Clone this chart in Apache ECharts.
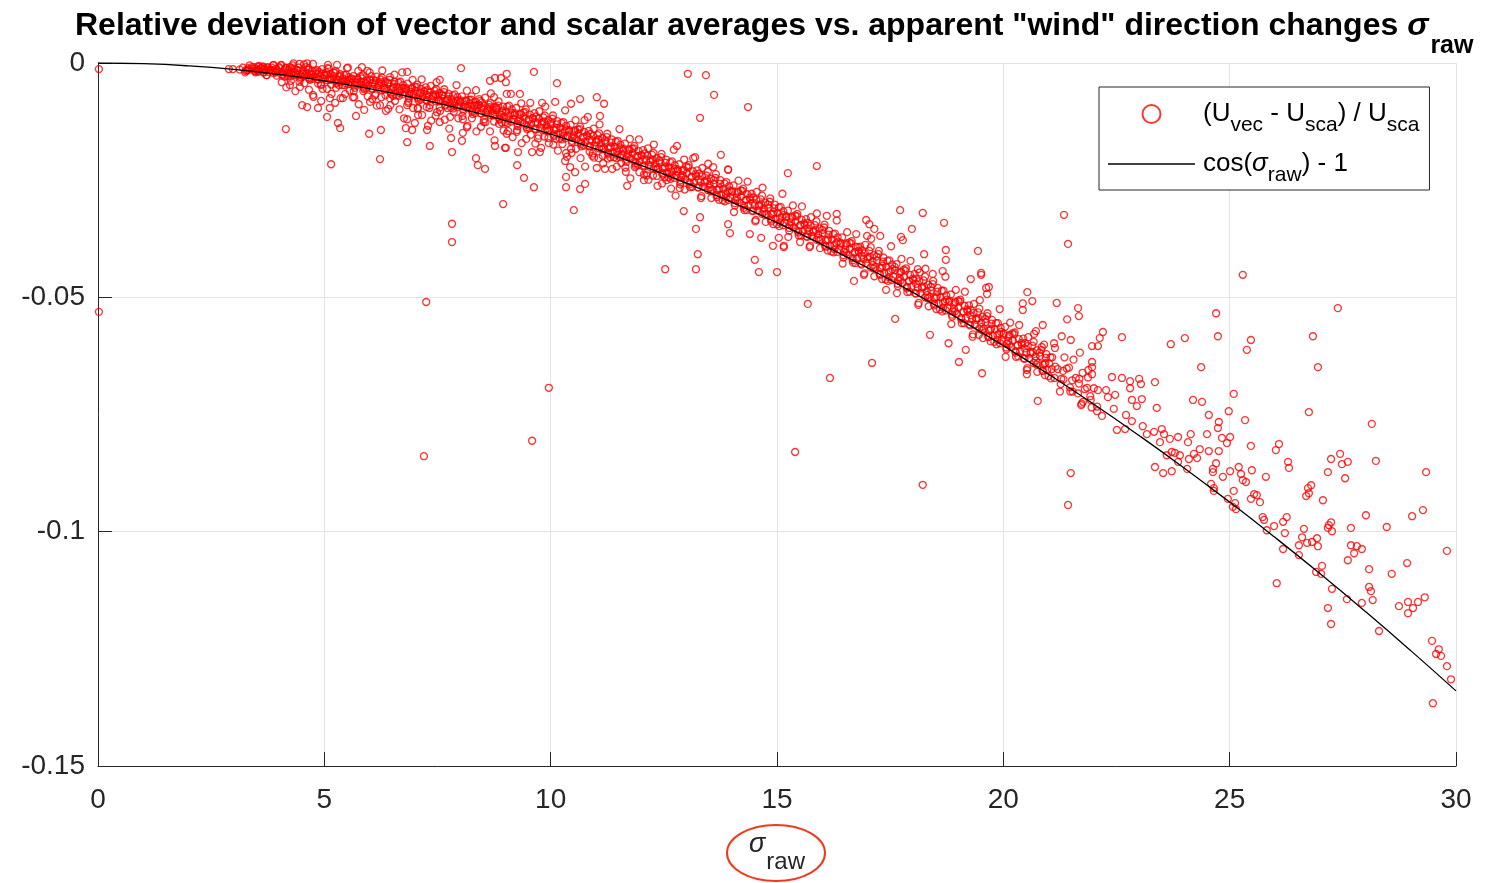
<!DOCTYPE html>
<html>
<head>
<meta charset="utf-8">
<script src="https://cdn.jsdelivr.net/npm/echarts@6/dist/echarts.min.js"></script>
<style>html,body{margin:0;padding:0;background:#fff;overflow:hidden}#c{width:1504px;height:883px}</style>
</head>
<body>
<div id="c"></div>
<script>
// ---- data ----
const xTicks = [0, 5, 10, 15, 20, 25, 30];
const yTickLabels = ['-0.15', '-0.1', '-0.05', '0'];

// black reference curve cos(sigma_raw)-1, read at each degree
const curveSigma = [0,1,2,3,4,5,6,7,8,9,10,11,12,13,14,15,16,17,18,19,20,21,22,23,24,25,26,27,28,29,30];
const curveDev = [0,-0.00015,-0.00061,-0.00137,-0.00244,-0.00381,-0.00548,-0.00745,-0.00973,-0.01231,-0.01519,-0.01837,-0.02185,-0.02563,-0.02970,-0.03407,-0.03874,-0.04370,-0.04894,-0.05448,-0.06031,-0.06642,-0.07282,-0.07950,-0.08645,-0.09369,-0.10121,-0.10899,-0.11705,-0.12538,-0.13397];

// dense band of measured points along the curve (part 1)
const bandPts = [
[3.13,-0.0014],[3.2,-0.0010],[3.27,-0.0017],[3.33,-0.0014],[3.4,-0.0009],[3.47,-0.0018],[3.53,-0.0019],[3.6,-0.0011],[3.67,-0.0014],
[3.73,-0.0026],[3.8,-0.0015],[3.87,-0.0005],[3.93,-0.0020],[4.0,-0.0009],[4.07,-0.0027],[4.13,-0.0014],[4.2,-0.0029],[4.27,-0.0021],
[4.33,-0.0026],[4.4,-0.0015],[4.47,-0.0034],[4.53,-0.0023],[4.6,-0.0009],[4.67,-0.0034],[4.73,-0.0034],[4.8,-0.0017],[4.87,-0.0024],
[4.93,-0.0045],[5.0,-0.0026],[5.07,-0.0011],[5.13,-0.0036],[5.2,-0.0020],[5.27,-0.0044],[5.33,-0.0029],[5.4,-0.0047],[5.47,-0.0037],
[5.53,-0.0045],[5.6,-0.0033],[5.67,-0.0053],[5.73,-0.0042],[5.8,-0.0028],[5.87,-0.0053],[5.93,-0.0054],[6.0,-0.0036],[6.07,-0.0044],
[6.13,-0.0066],[6.2,-0.0047],[6.27,-0.0031],[6.33,-0.0057],[6.4,-0.0042],[6.47,-0.0066],[6.53,-0.0051],[6.6,-0.0069],[6.67,-0.0059],
[6.73,-0.0067],[6.8,-0.0056],[6.87,-0.0075],[6.93,-0.0066],[7.0,-0.0051],[7.07,-0.0076],[7.13,-0.0078],[7.2,-0.0060],[7.27,-0.0068],
[7.33,-0.0090],[7.4,-0.0071],[7.47,-0.0056],[7.53,-0.0082],[7.6,-0.0067],[7.67,-0.0091],[7.73,-0.0077],[7.8,-0.0095],[7.87,-0.0085],
[7.93,-0.0094],[8.0,-0.0083],[8.07,-0.0102],[8.13,-0.0094],[8.2,-0.0079],[8.27,-0.0104],[8.33,-0.0107],[8.4,-0.0089],[8.47,-0.0096],
[8.53,-0.0120],[8.6,-0.0101],[8.67,-0.0085],[8.73,-0.0112],[8.8,-0.0097],[8.87,-0.0121],[8.93,-0.0104],[9.0,-0.0126],[9.07,-0.0114],
[9.13,-0.0125],[9.2,-0.0111],[9.27,-0.0135],[9.33,-0.0124],[9.4,-0.0106],[9.47,-0.0137],[9.53,-0.0139],[9.6,-0.0117],[9.67,-0.0126],
[9.73,-0.0155],[9.8,-0.0131],[9.87,-0.0112],[9.93,-0.0145],[10.0,-0.0126],[10.07,-0.0156],[10.13,-0.0139],[10.2,-0.0161],[10.27,-0.0149],
[10.33,-0.0160],[10.4,-0.0146],[10.47,-0.0170],[10.53,-0.0160],[10.6,-0.0142],[10.67,-0.0173],[10.73,-0.0176],[10.8,-0.0154],[10.87,-0.0163],
[10.93,-0.0193],[11.0,-0.0169],[11.07,-0.0150],[11.13,-0.0184],[11.2,-0.0165],[11.27,-0.0195],[11.33,-0.0179],[11.4,-0.0201],[11.47,-0.0189],
[11.53,-0.0201],[11.6,-0.0187],[11.67,-0.0211],[11.73,-0.0201],[11.8,-0.0183],[11.87,-0.0214],[11.93,-0.0217],[12.0,-0.0196],[12.07,-0.0204],
[12.13,-0.0235],[12.2,-0.0211],[12.27,-0.0192],[12.33,-0.0227],[12.4,-0.0208],[12.47,-0.0238],[12.53,-0.0222],[12.6,-0.0244],[12.67,-0.0232],
[12.73,-0.0245],[12.8,-0.0231],[12.87,-0.0255],[12.93,-0.0243],[13.0,-0.0221],[13.07,-0.0259],[13.13,-0.0264],[13.2,-0.0237],[13.27,-0.0248],
[13.33,-0.0284],[13.4,-0.0255],[13.47,-0.0232],[13.53,-0.0273],[13.6,-0.0250],[13.67,-0.0286],[13.73,-0.0267],[13.8,-0.0293],[13.87,-0.0279],
[13.93,-0.0292],[14.0,-0.0275],[14.07,-0.0304],[14.13,-0.0293],[14.2,-0.0272],[14.27,-0.0309],[14.33,-0.0314],[14.4,-0.0287],[14.47,-0.0298],
[14.53,-0.0335],[14.6,-0.0306],[14.67,-0.0283],[14.73,-0.0324],[14.8,-0.0302],[14.87,-0.0338],[14.93,-0.0318],[15.0,-0.0344],[15.07,-0.0330],
[15.13,-0.0346],[15.2,-0.0329],[15.27,-0.0358],[15.33,-0.0347],[15.4,-0.0325],[15.47,-0.0362],[15.53,-0.0368],[15.6,-0.0342],[15.67,-0.0353],
[15.73,-0.0390],[15.8,-0.0361],[15.87,-0.0338],[15.93,-0.0379],[16.0,-0.0356],[16.07,-0.0392],[16.13,-0.0376],[16.2,-0.0402],[16.27,-0.0388],
[16.33,-0.0403],[16.4,-0.0387],[16.47,-0.0415],[16.53,-0.0405],[16.6,-0.0383],[16.67,-0.0421],[16.73,-0.0427],[16.8,-0.0401],[16.87,-0.0411],
[16.93,-0.0449],[17.0,-0.0418],[17.07,-0.0393],[17.13,-0.0438],[17.2,-0.0413],[17.27,-0.0452],[17.33,-0.0433],[17.4,-0.0462],[17.47,-0.0446],
[17.53,-0.0463],[17.6,-0.0435],[17.67,-0.0476],[17.73,-0.0464],[17.8,-0.0441],[17.87,-0.0481],[17.93,-0.0488],[18.0,-0.0460],[18.07,-0.0471],
[18.13,-0.0512],[18.2,-0.0481],[18.27,-0.0456],[18.33,-0.0502],[18.4,-0.0478],[18.47,-0.0517],[18.53,-0.0498],[18.6,-0.0526],[18.67,-0.0511],
[18.73,-0.0528],[18.8,-0.0510],[18.87,-0.0541],[18.93,-0.0530],[19.0,-0.0507],[19.07,-0.0547],[19.13,-0.0555],[19.2,-0.0526],[19.27,-0.0538],
[19.33,-0.0579],[19.4,-0.0548],[19.47,-0.0524],[19.53,-0.0570],[19.6,-0.0546],[19.67,-0.0585],[19.73,-0.0567],[19.8,-0.0595],[19.87,-0.0580],
[19.93,-0.0598],[20.0,-0.0580],[20.07,-0.0611],[20.13,-0.0601],[20.2,-0.0577],[20.27,-0.0618],[20.33,-0.0626],[20.4,-0.0597],[20.47,-0.0609],
[20.53,-0.0651],[20.6,-0.0620],[20.67,-0.0595],[20.73,-0.0643],[20.8,-0.0618],[20.87,-0.0657],[20.93,-0.0640],[21.0,-0.0668],[21.07,-0.0653],
[21.13,-0.0672],[21.2,-0.0653],[21.27,-0.0685],[21.33,-0.0675],[21.4,-0.0652],[21.47,-0.0692],[21.53,-0.0701],[21.6,-0.0672],[21.67,-0.0684],
[21.73,-0.0727],[21.8,-0.0696],[21.87,-0.0671],[21.93,-0.0719],[22.0,-0.0694],[22.07,-0.0733]
];

// dense band of measured points along the curve (part 2)
const bandPts2 = [
[3.25,-0.0020],[3.28,-0.0015],[3.32,-0.0011],[3.35,-0.0005],[3.45,-0.0009],[3.48,-0.0020],[3.52,-0.0015],[3.55,-0.0006],
[3.65,-0.0020],[3.68,-0.0012],[3.72,-0.0026],[3.75,-0.0009],[3.85,-0.0015],[3.88,-0.0004],[3.92,-0.0020],[3.95,-0.0027],
[4.05,-0.0004],[4.08,-0.0020],[4.12,-0.0029],[4.15,-0.0010],[4.25,-0.0029],[4.28,-0.0011],[4.32,-0.0001],[4.35,-0.0019],
[4.45,-0.0040],[4.48,-0.0026],[4.52,-0.0018],[4.55,-0.0003],[4.65,-0.0011],[4.68,-0.0036],[4.72,-0.0024],[4.75,-0.0002],
[4.85,-0.0035],[4.88,-0.0019],[4.92,-0.0047],[4.95,-0.0013],[5.05,-0.0025],[5.08,-0.0004],[5.12,-0.0034],[5.15,-0.0046],
[5.25,-0.0017],[5.28,-0.0036],[5.32,-0.0047],[5.35,-0.0024],[5.45,-0.0047],[5.48,-0.0025],[5.52,-0.0010],[5.55,-0.0035],
[5.65,-0.0060],[5.68,-0.0044],[5.72,-0.0034],[5.75,-0.0017],[5.85,-0.0026],[5.88,-0.0056],[5.92,-0.0042],[5.95,-0.0017],
[6.05,-0.0055],[6.08,-0.0036],[6.12,-0.0069],[6.15,-0.0029],[6.25,-0.0041],[6.28,-0.0016],[6.32,-0.0053],[6.35,-0.0069],
[6.45,-0.0030],[6.48,-0.0055],[6.52,-0.0070],[6.55,-0.0040],[6.65,-0.0070],[6.68,-0.0040],[6.72,-0.0020],[6.75,-0.0053],
[6.85,-0.0085],[6.88,-0.0066],[6.92,-0.0055],[6.95,-0.0036],[7.05,-0.0046],[7.08,-0.0080],[7.12,-0.0064],[7.15,-0.0035],
[7.25,-0.0079],[7.28,-0.0058],[7.32,-0.0096],[7.35,-0.0049],[7.45,-0.0067],[7.48,-0.0041],[7.52,-0.0079],[7.55,-0.0095],
[7.65,-0.0056],[7.68,-0.0081],[7.72,-0.0096],[7.75,-0.0066],[7.85,-0.0097],[7.88,-0.0067],[7.92,-0.0047],[7.95,-0.0080],
[8.05,-0.0113],[8.08,-0.0093],[8.12,-0.0080],[8.15,-0.0059],[8.25,-0.0071],[8.28,-0.0109],[8.32,-0.0091],[8.35,-0.0058],
[8.45,-0.0107],[8.48,-0.0084],[8.52,-0.0126],[8.55,-0.0074],[8.65,-0.0094],[8.68,-0.0065],[8.72,-0.0107],[8.75,-0.0125],
[8.85,-0.0082],[8.88,-0.0110],[8.92,-0.0127],[8.95,-0.0093],[9.05,-0.0128],[9.08,-0.0091],[9.12,-0.0066],[9.15,-0.0107],
[9.25,-0.0147],[9.28,-0.0124],[9.32,-0.0110],[9.35,-0.0086],[9.45,-0.0099],[9.48,-0.0141],[9.52,-0.0121],[9.55,-0.0085],
[9.65,-0.0140],[9.68,-0.0114],[9.72,-0.0161],[9.75,-0.0103],[9.85,-0.0125],[9.88,-0.0093],[9.92,-0.0140],[9.95,-0.0160],
[10.05,-0.0112],[10.08,-0.0143],[10.12,-0.0162],[10.15,-0.0124],[10.25,-0.0163],[10.28,-0.0126],[10.32,-0.0101],[10.35,-0.0142],
[10.45,-0.0183],[10.48,-0.0160],[10.52,-0.0146],[10.55,-0.0122],[10.65,-0.0136],[10.68,-0.0178],[10.72,-0.0158],[10.75,-0.0122],
[10.85,-0.0178],[10.88,-0.0151],[10.92,-0.0198],[10.95,-0.0140],[11.05,-0.0163],[11.08,-0.0131],[11.12,-0.0178],[11.15,-0.0198],
[11.25,-0.0151],[11.28,-0.0182],[11.32,-0.0201],[11.35,-0.0163],[11.45,-0.0203],[11.48,-0.0166],[11.52,-0.0141],[11.55,-0.0182],
[11.65,-0.0223],[11.68,-0.0200],[11.72,-0.0186],[11.75,-0.0162],[11.85,-0.0177],[11.88,-0.0219],[11.92,-0.0199],[11.95,-0.0163],
[12.05,-0.0219],[12.08,-0.0193],[12.12,-0.0240],[12.15,-0.0182],[12.25,-0.0206],[12.28,-0.0174],[12.32,-0.0221],[12.35,-0.0241],
[12.45,-0.0194],[12.48,-0.0225],[12.52,-0.0244],[12.55,-0.0206],[12.65,-0.0247],[12.68,-0.0210],[12.72,-0.0185],[12.75,-0.0226],
[12.85,-0.0267],[12.88,-0.0244],[12.92,-0.0230],[12.95,-0.0206],[13.05,-0.0218],[13.08,-0.0265],[13.12,-0.0243],[13.15,-0.0203],
[13.25,-0.0265],[13.28,-0.0236],[13.32,-0.0288],[13.35,-0.0224],[13.45,-0.0250],[13.48,-0.0215],[13.52,-0.0266],[13.55,-0.0288],
[13.65,-0.0237],[13.68,-0.0271],[13.72,-0.0292],[13.75,-0.0250],[13.85,-0.0295],[13.88,-0.0254],[13.92,-0.0227],[13.95,-0.0272],
[14.05,-0.0318],[14.08,-0.0293],[14.12,-0.0277],[14.15,-0.0251],[14.25,-0.0268],[14.28,-0.0314],[14.32,-0.0292],[14.35,-0.0253],
[14.45,-0.0315],[14.48,-0.0287],[14.52,-0.0338],[14.55,-0.0275],[14.65,-0.0301],[14.68,-0.0266],[14.72,-0.0317],[14.75,-0.0339],
[14.85,-0.0289],[14.88,-0.0323],[14.92,-0.0344],[14.95,-0.0302],[15.05,-0.0348],[15.08,-0.0307],[15.12,-0.0279],[15.15,-0.0324],
[15.25,-0.0371],[15.28,-0.0346],[15.32,-0.0330],[15.35,-0.0304],[15.45,-0.0322],[15.48,-0.0368],[15.52,-0.0346],[15.55,-0.0306],
[15.65,-0.0370],[15.68,-0.0341],[15.72,-0.0393],[15.75,-0.0329],[15.85,-0.0356],[15.88,-0.0321],[15.92,-0.0373],[15.95,-0.0395],
[16.05,-0.0345],[16.08,-0.0379],[16.12,-0.0400],[16.15,-0.0358],[16.25,-0.0404],[16.28,-0.0364],[16.32,-0.0336],[16.35,-0.0381],
[16.45,-0.0428],[16.48,-0.0403],[16.52,-0.0388],[16.55,-0.0361],[16.65,-0.0380],[16.68,-0.0426],[16.72,-0.0404],[16.75,-0.0365],
[16.85,-0.0428],[16.88,-0.0400],[16.92,-0.0452],[16.95,-0.0388],[17.05,-0.0413],[17.08,-0.0375],[17.12,-0.0431],[17.15,-0.0455],
[17.25,-0.0401],[17.28,-0.0438],[17.32,-0.0461],[17.35,-0.0415],[17.45,-0.0465],[17.48,-0.0421],[17.52,-0.0391],[17.55,-0.0440],
[17.65,-0.0491],[17.68,-0.0464],[17.72,-0.0447],[17.75,-0.0418],[17.85,-0.0438],[17.88,-0.0489],[17.92,-0.0465],[17.95,-0.0422],
[18.05,-0.0491],[18.08,-0.0460],[18.12,-0.0516],[18.15,-0.0447],[18.25,-0.0477],[18.28,-0.0439],[18.32,-0.0495],[18.35,-0.0519],
[18.45,-0.0465],[18.48,-0.0502],[18.52,-0.0525],[18.55,-0.0480],[18.65,-0.0530],[18.68,-0.0486],[18.72,-0.0456],[18.75,-0.0505],
[18.85,-0.0557],[18.88,-0.0530],[18.92,-0.0513],[18.95,-0.0484],[19.05,-0.0505],[19.08,-0.0555],[19.12,-0.0531],[19.15,-0.0488],
[19.25,-0.0558],[19.28,-0.0527],[19.32,-0.0584],[19.35,-0.0514],[19.45,-0.0545],[19.48,-0.0506],[19.52,-0.0563],[19.55,-0.0587],
[19.65,-0.0534],[19.68,-0.0571],[19.72,-0.0594],[19.75,-0.0548],[19.85,-0.0600],[19.88,-0.0555],[19.92,-0.0525],[19.95,-0.0574],
[20.05,-0.0627],[20.08,-0.0599],[20.12,-0.0583],[20.15,-0.0554],[20.25,-0.0575],[20.28,-0.0627],[20.32,-0.0602],[20.35,-0.0559],
[20.45,-0.0630],[20.48,-0.0598],[20.52,-0.0655],[20.55,-0.0585],[20.65,-0.0617],[20.68,-0.0578],[20.72,-0.0635],[20.75,-0.0659],
[20.85,-0.0606],[20.88,-0.0644],[20.92,-0.0666],[20.95,-0.0621],[21.05,-0.0673],[21.08,-0.0628],[21.12,-0.0598],[21.15,-0.0648],
[21.25,-0.0701],[21.28,-0.0674],[21.32,-0.0657],[21.35,-0.0628],[21.45,-0.0650],[21.48,-0.0701],[21.52,-0.0677],[21.55,-0.0633],
[21.65,-0.0705],[21.68,-0.0674],[21.72,-0.0730],[21.75,-0.0661],[21.85,-0.0693],[21.88,-0.0655],[21.92,-0.0711],[21.95,-0.0735]
];

// dense core of the band just above the curve (part 3)
const bandPts3 = [
[3.47,-0.0017],[3.51,-0.0012],[3.54,-0.0008],[3.57,-0.0016],[3.61,-0.0011],[3.64,-0.0007],[3.67,-0.0020],[3.71,-0.0016],[3.74,-0.0011],
[3.77,-0.0019],[3.81,-0.0014],[3.84,-0.0010],[3.87,-0.0021],[3.91,-0.0017],[3.94,-0.0012],[3.97,-0.0018],[4.01,-0.0011],[4.04,-0.0005],
[4.07,-0.0024],[4.11,-0.0018],[4.14,-0.0011],[4.17,-0.0022],[4.21,-0.0016],[4.24,-0.0009],[4.27,-0.0025],[4.31,-0.0019],[4.34,-0.0012],
[4.37,-0.0024],[4.41,-0.0016],[4.44,-0.0010],[4.47,-0.0030],[4.51,-0.0023],[4.54,-0.0016],[4.57,-0.0027],[4.61,-0.0021],[4.64,-0.0014],
[4.67,-0.0031],[4.71,-0.0024],[4.74,-0.0017],[4.77,-0.0029],[4.81,-0.0022],[4.84,-0.0015],[4.87,-0.0035],[4.91,-0.0029],[4.94,-0.0022],
[4.97,-0.0033],[5.01,-0.0027],[5.04,-0.0020],[5.07,-0.0037],[5.11,-0.0030],[5.14,-0.0023],[5.17,-0.0035],[5.21,-0.0028],[5.24,-0.0021],
[5.27,-0.0042],[5.31,-0.0035],[5.34,-0.0028],[5.37,-0.0040],[5.41,-0.0033],[5.44,-0.0026],[5.47,-0.0043],[5.51,-0.0037],[5.54,-0.0030],
[5.57,-0.0042],[5.61,-0.0035],[5.64,-0.0028],[5.67,-0.0048],[5.71,-0.0042],[5.74,-0.0035],[5.77,-0.0046],[5.81,-0.0040],[5.84,-0.0033],
[5.87,-0.0050],[5.91,-0.0043],[5.94,-0.0037],[5.97,-0.0047],[6.01,-0.0037],[6.04,-0.0028],[6.07,-0.0055],[6.11,-0.0046],[6.14,-0.0038],
[6.17,-0.0052],[6.21,-0.0043],[6.24,-0.0035],[6.27,-0.0057],[6.31,-0.0048],[6.34,-0.0039],[6.37,-0.0054],[6.41,-0.0045],[6.44,-0.0036],
[6.47,-0.0063],[6.51,-0.0054],[6.54,-0.0045],[6.57,-0.0060],[6.61,-0.0051],[6.64,-0.0042],[6.67,-0.0064],[6.71,-0.0056],[6.74,-0.0047],
[6.77,-0.0062],[6.81,-0.0053],[6.84,-0.0044],[6.87,-0.0071],[6.91,-0.0062],[6.94,-0.0053],[6.97,-0.0068],[7.01,-0.0059],[7.04,-0.0051],
[7.07,-0.0073],[7.11,-0.0064],[7.14,-0.0055],[7.17,-0.0071],[7.21,-0.0061],[7.24,-0.0052],[7.27,-0.0080],[7.31,-0.0071],[7.34,-0.0062],
[7.37,-0.0077],[7.41,-0.0068],[7.44,-0.0059],[7.47,-0.0082],[7.51,-0.0073],[7.54,-0.0064],[7.57,-0.0080],[7.61,-0.0070],[7.64,-0.0062],
[7.67,-0.0089],[7.71,-0.0080],[7.74,-0.0071],[7.77,-0.0086],[7.81,-0.0077],[7.84,-0.0069],[7.87,-0.0091],[7.91,-0.0082],[7.94,-0.0073],
[7.97,-0.0089],[8.01,-0.0080],[8.04,-0.0071],[8.07,-0.0098],[8.11,-0.0090],[8.14,-0.0081],[8.17,-0.0096],[8.21,-0.0087],[8.24,-0.0078],
[8.27,-0.0101],[8.31,-0.0092],[8.34,-0.0083],[8.37,-0.0099],[8.41,-0.0090],[8.44,-0.0081],[8.47,-0.0108],[8.51,-0.0100],[8.54,-0.0091],
[8.57,-0.0106],[8.61,-0.0097],[8.64,-0.0089],[8.67,-0.0111],[8.71,-0.0102],[8.74,-0.0094],[8.77,-0.0110],[8.81,-0.0100],[8.84,-0.0091],
[8.87,-0.0119],[8.91,-0.0110],[8.94,-0.0101],[8.97,-0.0115],[9.01,-0.0104],[9.04,-0.0093],[9.07,-0.0121],[9.11,-0.0110],[9.14,-0.0099],
[9.17,-0.0119],[9.21,-0.0107],[9.24,-0.0096],[9.27,-0.0130],[9.31,-0.0119],[9.34,-0.0108],[9.37,-0.0127],[9.41,-0.0116],[9.44,-0.0105],
[9.47,-0.0132],[9.51,-0.0121],[9.54,-0.0110],[9.57,-0.0130],[9.61,-0.0118],[9.64,-0.0107],[9.67,-0.0141],[9.71,-0.0130],[9.74,-0.0119],
[9.77,-0.0138],[9.81,-0.0127],[9.84,-0.0116],[9.87,-0.0144],[9.91,-0.0133],[9.94,-0.0122],[9.97,-0.0142],[10.01,-0.0130],[10.04,-0.0119],
[10.07,-0.0153],[10.11,-0.0142],[10.14,-0.0131],[10.17,-0.0150],[10.21,-0.0139],[10.24,-0.0128],[10.27,-0.0156],[10.31,-0.0145],[10.34,-0.0134],
[10.37,-0.0155],[10.41,-0.0143],[10.44,-0.0132],[10.47,-0.0166],[10.51,-0.0155],[10.54,-0.0144],[10.57,-0.0163],[10.61,-0.0152],[10.64,-0.0141],
[10.67,-0.0169],[10.71,-0.0158],[10.74,-0.0147],[10.77,-0.0168],[10.81,-0.0156],[10.84,-0.0145],[10.87,-0.0178],[10.91,-0.0167],[10.94,-0.0156],
[10.97,-0.0176],[11.01,-0.0165],[11.04,-0.0154],[11.07,-0.0182],[11.11,-0.0171],[11.14,-0.0160],[11.17,-0.0181],[11.21,-0.0169],[11.24,-0.0158],
[11.27,-0.0192],[11.31,-0.0181],[11.34,-0.0170],[11.37,-0.0190],[11.41,-0.0179],[11.44,-0.0168],[11.47,-0.0196],[11.51,-0.0185],[11.54,-0.0174],
[11.57,-0.0195],[11.61,-0.0183],[11.64,-0.0172],[11.67,-0.0206],[11.71,-0.0195],[11.74,-0.0184],[11.77,-0.0204],[11.81,-0.0193],[11.84,-0.0182],
[11.87,-0.0210],[11.91,-0.0199],[11.94,-0.0188],[11.97,-0.0209],[12.01,-0.0197],[12.04,-0.0186],[12.07,-0.0220],[12.11,-0.0209],[12.14,-0.0198],
[12.17,-0.0218],[12.21,-0.0207],[12.24,-0.0196],[12.27,-0.0225],[12.31,-0.0214],[12.34,-0.0203],[12.37,-0.0224],[12.41,-0.0212],[12.44,-0.0201],
[12.47,-0.0235],[12.51,-0.0224],[12.54,-0.0213],[12.57,-0.0234],[12.61,-0.0223],[12.64,-0.0212],[12.67,-0.0240],[12.71,-0.0229],[12.74,-0.0218],
[12.77,-0.0239],[12.81,-0.0227],[12.84,-0.0216],[12.87,-0.0250],[12.91,-0.0239],[12.94,-0.0228],[12.97,-0.0248],[13.01,-0.0235],[13.04,-0.0223],
[13.07,-0.0255],[13.11,-0.0243],[13.14,-0.0231],[13.17,-0.0254],[13.21,-0.0241],[13.24,-0.0229],[13.27,-0.0266],[13.31,-0.0254],[13.34,-0.0242],
[13.37,-0.0264],[13.41,-0.0252],[13.44,-0.0240],[13.47,-0.0271],[13.51,-0.0259],[13.54,-0.0247],[13.57,-0.0270],[13.61,-0.0257],[13.64,-0.0245],
[13.67,-0.0282],[13.71,-0.0270],[13.74,-0.0258],[13.77,-0.0281],[13.81,-0.0269],[13.84,-0.0257],[13.87,-0.0287],[13.91,-0.0275],[13.94,-0.0263],
[13.97,-0.0286],[14.01,-0.0273],[14.04,-0.0261],[14.07,-0.0299],[14.11,-0.0287],[14.14,-0.0275],[14.17,-0.0298],[14.21,-0.0285],[14.24,-0.0273],
[14.27,-0.0304],[14.31,-0.0292],[14.34,-0.0280],[14.37,-0.0304],[14.41,-0.0291],[14.44,-0.0279],[14.47,-0.0316],[14.51,-0.0304],[14.54,-0.0292],
[14.57,-0.0315],[14.61,-0.0303],[14.64,-0.0291],[14.67,-0.0322],[14.71,-0.0310],[14.74,-0.0298],[14.77,-0.0322],[14.81,-0.0309],[14.84,-0.0296],
[14.87,-0.0334],[14.91,-0.0322],[14.94,-0.0310],[14.97,-0.0332],[15.01,-0.0320],[15.04,-0.0308],[15.07,-0.0340],[15.11,-0.0328],[15.14,-0.0316],
[15.17,-0.0340],[15.21,-0.0327],[15.24,-0.0315],[15.27,-0.0352],[15.31,-0.0340],[15.34,-0.0328],[15.37,-0.0351],[15.41,-0.0339],[15.44,-0.0327],
[15.47,-0.0358],[15.51,-0.0346],[15.54,-0.0334],[15.57,-0.0359],[15.61,-0.0345],[15.64,-0.0333],[15.67,-0.0371],[15.71,-0.0359],[15.74,-0.0347],
[15.77,-0.0370],[15.81,-0.0358],[15.84,-0.0346],[15.87,-0.0377],[15.91,-0.0365],[15.94,-0.0353],[15.97,-0.0376],[16.01,-0.0363],[16.04,-0.0351],
[16.07,-0.0390],[16.11,-0.0378],[16.14,-0.0366],[16.17,-0.0390],[16.21,-0.0377],[16.24,-0.0365],[16.27,-0.0397],[16.31,-0.0384],[16.34,-0.0372],
[16.37,-0.0397],[16.41,-0.0384],[16.44,-0.0372],[16.47,-0.0410],[16.51,-0.0398],[16.54,-0.0385],[16.57,-0.0409],[16.61,-0.0397],[16.64,-0.0385],
[16.67,-0.0416],[16.71,-0.0404],[16.74,-0.0392],[16.77,-0.0417],[16.81,-0.0404],[16.84,-0.0392],[16.87,-0.0430],[16.91,-0.0418],[16.94,-0.0406],
[16.97,-0.0427],[17.01,-0.0414],[17.04,-0.0401],[17.07,-0.0436],[17.11,-0.0423],[17.14,-0.0410],[17.17,-0.0435],[17.21,-0.0421],[17.24,-0.0408],
[17.27,-0.0450],[17.31,-0.0437],[17.34,-0.0424],[17.37,-0.0448],[17.41,-0.0435],[17.44,-0.0422],[17.47,-0.0457],[17.51,-0.0444],[17.54,-0.0430],
[17.57,-0.0456],[17.61,-0.0442],[17.64,-0.0429],[17.67,-0.0471],[17.71,-0.0458],[17.74,-0.0445],[17.77,-0.0469],[17.81,-0.0456],[17.84,-0.0443],
[17.87,-0.0478],[17.91,-0.0465],[17.94,-0.0452],[17.97,-0.0477],[18.01,-0.0463],[18.04,-0.0450],[18.07,-0.0492],[18.11,-0.0479],[18.14,-0.0466],
[18.17,-0.0491],[18.21,-0.0478],[18.24,-0.0464],[18.27,-0.0500],[18.31,-0.0487],[18.34,-0.0473],[18.37,-0.0499],[18.41,-0.0485],[18.44,-0.0472],
[18.47,-0.0514],[18.51,-0.0501],[18.54,-0.0488],[18.57,-0.0513],[18.61,-0.0500],[18.64,-0.0486],[18.67,-0.0522],[18.71,-0.0509],[18.74,-0.0496],
[18.77,-0.0522],[18.81,-0.0507],[18.84,-0.0494],[18.87,-0.0537],[18.91,-0.0524],[18.94,-0.0510],[18.97,-0.0535],[19.01,-0.0522],[19.04,-0.0509],
[19.07,-0.0544],[19.11,-0.0531],[19.14,-0.0518],[19.17,-0.0544],[19.21,-0.0530],[19.24,-0.0517],[19.27,-0.0560],[19.31,-0.0546],[19.34,-0.0533],
[19.37,-0.0558],[19.41,-0.0545],[19.44,-0.0532],[19.47,-0.0567],[19.51,-0.0554],[19.54,-0.0541],[19.57,-0.0567],[19.61,-0.0553],[19.64,-0.0540],
[19.67,-0.0583],[19.71,-0.0570],[19.74,-0.0556],[19.77,-0.0582],[19.81,-0.0568],[19.84,-0.0555],[19.87,-0.0591],[19.91,-0.0578],[19.94,-0.0565],
[19.97,-0.0591],[20.01,-0.0577],[20.04,-0.0563],[20.07,-0.0607],[20.11,-0.0593],[20.14,-0.0580],[20.17,-0.0606],[20.21,-0.0592],[20.24,-0.0579],
[20.27,-0.0615],[20.31,-0.0602],[20.34,-0.0589],[20.37,-0.0615],[20.41,-0.0601],[20.44,-0.0588],[20.47,-0.0631],[20.51,-0.0618],[20.54,-0.0604],
[20.57,-0.0630],[20.61,-0.0617],[20.64,-0.0603],[20.67,-0.0640],[20.71,-0.0626],[20.74,-0.0613],[20.77,-0.0640],[20.81,-0.0625],[20.84,-0.0612],
[20.87,-0.0656],[20.91,-0.0642],[20.94,-0.0629],[20.97,-0.0655],[21.01,-0.0641],[21.04,-0.0628]
];

// band points lying just below the curve (part 4)
const bandPts4 = [
[4.06,-0.0041],[4.16,-0.0052],[4.26,-0.0038],[4.36,-0.0060],[4.46,-0.0051],[4.56,-0.0043],[4.66,-0.0057],[4.76,-0.0072],
[4.86,-0.0044],[4.96,-0.0055],[5.06,-0.0055],[5.16,-0.0066],[5.26,-0.0053],[5.36,-0.0075],[5.46,-0.0066],[5.56,-0.0059],
[5.66,-0.0073],[5.76,-0.0088],[5.86,-0.0060],[5.96,-0.0071],[6.06,-0.0077],[6.16,-0.0091],[6.26,-0.0073],[6.36,-0.0102],
[6.46,-0.0090],[6.56,-0.0081],[6.66,-0.0099],[6.76,-0.0118],[6.86,-0.0082],[6.96,-0.0096],[7.06,-0.0097],[7.16,-0.0111],
[7.26,-0.0094],[7.36,-0.0123],[7.46,-0.0112],[7.56,-0.0102],[7.66,-0.0121],[7.76,-0.0140],[7.86,-0.0104],[7.96,-0.0118],
[8.06,-0.0120],[8.16,-0.0134],[8.26,-0.0118],[8.36,-0.0146],[8.46,-0.0136],[8.56,-0.0126],[8.66,-0.0146],[8.76,-0.0165],
[8.86,-0.0130],[8.96,-0.0144],[9.06,-0.0145],[9.16,-0.0158],[9.26,-0.0143],[9.36,-0.0171],[9.46,-0.0162],[9.56,-0.0153],
[9.66,-0.0172],[9.76,-0.0190],[9.86,-0.0157],[9.96,-0.0171],[10.06,-0.0174],[10.16,-0.0187],[10.26,-0.0173],[10.36,-0.0200],
[10.46,-0.0192],[10.56,-0.0183],[10.66,-0.0203],[10.76,-0.0221],[10.86,-0.0189],[10.96,-0.0202],[11.06,-0.0203],[11.16,-0.0214],
[11.26,-0.0204],[11.36,-0.0226],[11.46,-0.0221],[11.56,-0.0213],[11.66,-0.0232],[11.76,-0.0246],[11.86,-0.0222],[11.96,-0.0233],
[12.06,-0.0238],[12.16,-0.0249],[12.26,-0.0240],[12.36,-0.0262],[12.46,-0.0257],[12.56,-0.0250],[12.66,-0.0268],[12.76,-0.0283],
[12.86,-0.0259],[12.96,-0.0270]
];

// scattered points, sigma < 10
const lowPts = [
[0.02,-0.0013],[0.02,-0.0531],[2.89,-0.0013],[2.98,-0.0013],[3.31,-0.0015],[3.42,-0.0013],[3.53,-0.0015],[3.64,-0.0009],
[4.15,-0.0141],[5.15,-0.0216],[4.51,-0.0090],[4.62,-0.0094],[4.75,-0.0068],[4.93,-0.0081],[4.86,-0.0096],[5.06,-0.0115],
[4.24,-0.0047],[5.30,-0.0128],[5.35,-0.0139],[5.12,-0.0096],[5.24,-0.0085],[5.70,-0.0113],[5.88,-0.0100],[5.99,-0.0151],
[6.25,-0.0143],[6.23,-0.0205],[6.41,-0.0098],[6.83,-0.0019],[8.02,-0.0011],[7.55,-0.0036],[7.25,-0.0510],[7.20,-0.0839],
[7.82,-0.0343],[7.82,-0.0382],[6.83,-0.0169],[7.33,-0.0177],[6.83,-0.0120],[6.80,-0.0139],[6.94,-0.0143],[7.00,-0.0128],
[7.07,-0.0111],[7.29,-0.0134],[7.27,-0.0143],[7.82,-0.0190],[7.80,-0.0160],[8.04,-0.0166],[8.06,-0.0149],[8.15,-0.0137],
[8.35,-0.0203],[8.39,-0.0218],[8.55,-0.0226],[8.77,-0.0177],[8.99,-0.0181],[8.66,-0.0038],[8.77,-0.0032],[8.90,-0.0032],
[9.03,-0.0023],[9.01,-0.0041],[8.75,-0.0073],[8.79,-0.0094],[8.42,-0.0077],[8.37,-0.0090],[9.63,-0.0019],[9.03,-0.0066],
[9.32,-0.0066],[9.81,-0.0085],[9.03,-0.0151],[9.01,-0.0181],[9.28,-0.0190],[9.59,-0.0190],[9.79,-0.0181],[9.26,-0.0218],
[9.41,-0.0245],[9.63,-0.0265],[8.95,-0.0301],[9.96,-0.0693],[9.59,-0.0806],
[4.30,-0.0005],[4.45,-0.0002],[4.62,-0.0001],[5.10,-0.0012],[5.28,-0.0004],[5.50,-0.0011],[5.83,-0.0009],[6.00,-0.0020],[6.55,-0.0025],
[5.12,-0.0075],[5.41,-0.0075],[5.63,-0.0073],[6.01,-0.0083],[6.23,-0.0090],[6.45,-0.0075],[6.83,-0.0090],[7.07,-0.0096],
[7.49,-0.0105],[7.55,-0.0126],[7.78,-0.0115]
];

// scattered points, 10 <= sigma < 20
const midPts = [
[10.14,-0.0043],[13.03,-0.0023],[13.43,-0.0026],[13.61,-0.0068],[14.36,-0.0094],[13.30,-0.0117],[10.10,-0.0083],[10.45,-0.0087],
[10.65,-0.0077],[11.02,-0.0073],[11.18,-0.0087],[11.09,-0.0113],[10.82,-0.0115],[10.51,-0.0314],[10.34,-0.0243],[10.34,-0.0265],
[10.65,-0.0269],[10.76,-0.0258],[10.54,-0.0233],[10.43,-0.0222],[10.32,-0.0209],[10.34,-0.0192],[11.02,-0.0224],[11.20,-0.0226],
[11.69,-0.0262],[12.06,-0.0250],[12.79,-0.0177],[13.19,-0.0201],[13.76,-0.0196],[13.59,-0.0222],[13.92,-0.0228],[12.94,-0.0316],
[13.30,-0.0329],[13.21,-0.0354],[13.92,-0.0344],[13.96,-0.0363],[13.25,-0.0408],[13.21,-0.0440],[12.53,-0.0440],[14.40,-0.0365],
[14.65,-0.0373],[14.91,-0.0390],[15.15,-0.0390],[15.04,-0.0373],[14.51,-0.0420],[14.60,-0.0446],[15.00,-0.0446],[15.88,-0.0220],
[15.24,-0.0235],[15.68,-0.0514],[15.40,-0.0830],[16.17,-0.0672],[17.10,-0.0640],[17.61,-0.0546],
[17.72,-0.0314],[18.22,-0.0320],[18.69,-0.0341],[17.98,-0.0354],[17.74,-0.0371],[17.78,-0.0378],[18.73,-0.0399],[18.73,-0.0420],
[19.44,-0.0401],[18.25,-0.0408],[19.51,-0.0452],[19.62,-0.0480],[16.97,-0.0335],[17.04,-0.0344],[17.15,-0.0354],[17.28,-0.0369],
[16.99,-0.0369],[16.79,-0.0393],[16.70,-0.0465],[17.41,-0.0484],[18.11,-0.0440],[18.44,-0.0450],[18.66,-0.0444],[15.15,-0.0393],
[15.51,-0.0382],[15.68,-0.0365],[16.32,-0.0322],[16.10,-0.0326],
[18.38,-0.0580],[18.79,-0.0598],[19.02,-0.0638],[19.17,-0.0612],[19.53,-0.0662],[19.46,-0.0580],[18.22,-0.0900],[19.28,-0.0461],
[19.51,-0.0448],[19.68,-0.0478],[19.64,-0.0493]
];

// scattered points, sigma >= 20
const highPts = [
[20.52,-0.0664],[20.76,-0.0721],[21.49,-0.0875],[21.43,-0.0943],[20.43,-0.0527],[20.43,-0.0513],[21.18,-0.0512],[21.41,-0.0547],
[21.65,-0.0523],[21.67,-0.0540],[20.87,-0.0559],[20.72,-0.0572],[20.90,-0.0601],[21.14,-0.0608],[21.29,-0.0583],[21.49,-0.0591],
[21.69,-0.0618],[21.96,-0.0604],[22.09,-0.0604],[22.20,-0.0574],[22.13,-0.0587],[22.62,-0.0585],[21.96,-0.0638],[21.96,-0.0649],
[21.96,-0.0664],[22.40,-0.0670],[22.62,-0.0672],[22.80,-0.0679],[22.80,-0.0694],[23.00,-0.0674],[23.04,-0.0685],[23.35,-0.0681],
[22.47,-0.0708],[22.27,-0.0698],[22.09,-0.0698],[22.31,-0.0713],[22.44,-0.0738],[22.07,-0.0743],[22.18,-0.0753],[21.76,-0.0723],
[22.71,-0.0751],[22.84,-0.0719],[22.95,-0.0732],[23.06,-0.0717],[23.39,-0.0736],[23.70,-0.0600],[24.01,-0.0587],[24.37,-0.0649],
[24.19,-0.0719],[24.39,-0.0723],[24.54,-0.0751],[24.98,-0.0743],[25.09,-0.0706],[25.34,-0.0762],[24.70,-0.0534],[24.74,-0.0583],
[25.38,-0.0612],[25.47,-0.0591],[26.84,-0.0583],[26.95,-0.0649],[27.39,-0.0523],[26.75,-0.0745],[21.34,-0.0324],[21.43,-0.0386],
[25.29,-0.0452],[20.53,-0.0489],[20.64,-0.0508]
];

// scattered points at the right end
const tailPts = [
[22.51,-0.0783],[22.69,-0.0781],[23.08,-0.0775],[22.84,-0.0764],[23.17,-0.0792],[23.33,-0.0787],[23.50,-0.0781],[23.55,-0.0792],
[23.68,-0.0802],[23.86,-0.0798],[23.46,-0.0809],[24.08,-0.0809],[24.14,-0.0792],[24.50,-0.0792],[24.74,-0.0779],[24.76,-0.0766],
[24.83,-0.0800],[25.01,-0.0798],[24.94,-0.0811],[24.34,-0.0824],[24.54,-0.0828],[24.76,-0.0828],[23.72,-0.0830],[23.79,-0.0832],
[23.90,-0.0837],[23.61,-0.0837],[24.10,-0.0845],[24.28,-0.0843],[24.21,-0.0834],[23.86,-0.0851],[23.35,-0.0862],[23.53,-0.0875],
[23.72,-0.0871],[24.06,-0.0866],[24.70,-0.0854],[24.63,-0.0866],[24.63,-0.0873],[25.20,-0.0862],[25.49,-0.0869],[25.01,-0.0871],
[25.25,-0.0877],[24.85,-0.0883],[25.29,-0.0890],[25.36,-0.0894],[25.80,-0.0883],[25.47,-0.0817],[26.02,-0.0826],[26.09,-0.0813],
[26.29,-0.0851],[26.31,-0.0864],[24.59,-0.0898],[24.65,-0.0907],[24.65,-0.0913],[25.09,-0.0913],[24.96,-0.0930],[25.12,-0.0939],
[25.07,-0.0947],[25.14,-0.0952],[25.54,-0.0920],[25.60,-0.0922],[25.47,-0.0930],[25.67,-0.0937],[25.73,-0.0969],[25.76,-0.0975],
[25.98,-0.0988],[25.82,-0.0997],[26.18,-0.0979],[26.26,-0.0969],[26.22,-0.1003],[26.18,-0.1037],[26.04,-0.1110],[26.53,-0.1050],
[26.53,-0.1029],[26.64,-0.0994],[26.60,-0.1012],[26.71,-0.1024],[26.82,-0.1022],[26.95,-0.1031],[26.93,-0.1014],[26.91,-0.1086],
[27.02,-0.1090],[27.04,-0.1073],[27.26,-0.1122],[27.17,-0.1163],[27.24,-0.1197],[27.59,-0.1144],[27.92,-0.1152],[28.16,-0.1146],
[28.08,-0.1118],[28.12,-0.1127],[28.08,-0.1080],[27.61,-0.1061],[27.75,-0.1046],[27.68,-0.1029],[27.81,-0.1031],[27.92,-0.1037],
[27.68,-0.0992],[27.17,-0.0992],[27.26,-0.0999],[27.24,-0.0980],[27.19,-0.0986],[26.69,-0.0924],[26.75,-0.0918],[26.73,-0.0907],
[26.80,-0.0901],[27.06,-0.0933],[27.17,-0.0873],[27.24,-0.0845],[27.44,-0.0834],[27.48,-0.0856],[27.61,-0.0851],[27.55,-0.0886],
[28.14,-0.0770],[28.23,-0.0849],[28.01,-0.0965],[28.47,-0.0990],[28.58,-0.1090],[28.30,-0.1212],[28.74,-0.1159],[28.94,-0.1150],
[29.05,-0.1163],[28.94,-0.1174],[29.16,-0.1150],[29.31,-0.1140],[28.92,-0.1067],[29.03,-0.0967],[29.27,-0.0954],[29.34,-0.0873],
[29.80,-0.1041],[29.47,-0.1233],[29.62,-0.1251],[29.56,-0.1261],[29.67,-0.1265],[29.80,-0.1287],[29.89,-0.1315],[29.49,-0.1366]
];

// ---- chart ----
const FONT = '"Liberation Sans", Arial, Helvetica, sans-serif';
const scatterData = bandPts.concat(bandPts2, bandPts3, bandPts4, lowPts, midPts, highPts, tailPts);
const curveData = curveSigma.map((s, i) => [s, curveDev[i]]);

const chart = echarts.init(document.getElementById('c'), null, { renderer: 'canvas', width: 1504, height: 883 });
chart.setOption({
  backgroundColor: '#ffffff',
  animation: false,
  title: {
    text: '{m|Relative deviation of vector and scalar averages vs. apparent "wind" direction changes }{g|σ}{s|raw}',
    left: 70,
    top: -11,
    textStyle: {
      rich: {
        m: { fontFamily: FONT, fontSize: 32, fontWeight: 'bold', color: '#000' },
        g: { fontFamily: FONT, fontSize: 32, fontWeight: 'bold', fontStyle: 'italic', color: '#000' },
        s: { fontFamily: FONT, fontSize: 25, fontWeight: 'bold', color: '#000', padding: [40, 0, 0, 2] }
      }
    }
  },
  legend: {
    orient: 'vertical',
    left: 1099,
    top: 87,
    padding: [14, 10, 4, 9],
    itemWidth: 87,
    itemHeight: 18,
    itemGap: 15,
    backgroundColor: '#ffffff',
    borderColor: '#262626',
    borderWidth: 1,
    data: [
      { name: 'data', icon: 'circle' },
      { name: 'fit', icon: 'path://M0,0L87,0L87,1.3L0,1.3Z', itemStyle: { color: '#000000' } }
    ],
    formatter: function (name) {
      return name === 'data'
        ? '{m|(U}{s|vec}{m| - U}{s|sca}{m|) / U}{s|sca}'
        : '{m|cos(}{g|σ}{s|raw}{m|) - 1}';
    },
    textStyle: {
      padding: [0, 0, 0, 3],
      rich: {
        m: { fontFamily: FONT, fontSize: 26, color: '#000' },
        g: { fontFamily: FONT, fontSize: 26, fontStyle: 'italic', color: '#000' },
        s: { fontFamily: FONT, fontSize: 21, color: '#000', padding: [23, 0, 0, 0] }
      }
    }
  },
  grid: { left: 98, top: 63, width: 1358, height: 703, containLabel: false },
  xAxis: {
    type: 'value',
    min: xTicks[0],
    max: xTicks[xTicks.length - 1],
    interval: 5,
    name: '{g|σ}{s|raw}',
    nameLocation: 'middle',
    nameGap: 48,
    nameTextStyle: {
      rich: {
        g: { fontFamily: FONT, fontSize: 27, fontStyle: 'italic', color: '#262626' },
        s: { fontFamily: FONT, fontSize: 24, color: '#262626', padding: [36, 0, 0, 1] }
      }
    },
    axisLine: { show: true, onZero: false, lineStyle: { color: '#262626', width: 1 } },
    axisTick: { show: true, inside: true, length: 14, lineStyle: { color: '#262626', width: 1 } },
    axisLabel: { fontFamily: FONT, fontSize: 28, color: '#262626', margin: 20 },
    splitLine: { show: true, lineStyle: { color: '#e3e3e3', width: 1 } }
  },
  yAxis: {
    type: 'value',
    min: -0.15,
    max: 0,
    interval: 0.05,
    axisLine: { show: true, onZero: false, lineStyle: { color: '#262626', width: 1 } },
    axisTick: { show: true, inside: true, length: 14, lineStyle: { color: '#262626', width: 1 } },
    axisLabel: {
      fontFamily: FONT, fontSize: 28, color: '#262626', margin: 13,
      formatter: function (v) {
        const idx = Math.round((v + 0.15) / 0.05);
        return yTickLabels[idx];
      }
    },
    splitLine: { show: true, lineStyle: { color: '#e3e3e3', width: 1 } }
  },
  series: [
    {
      name: 'data',
      type: 'scatter',
      data: scatterData,
      symbol: 'circle',
      symbolSize: 7,
      itemStyle: { color: 'rgba(255,255,255,0)', borderColor: '#ff0000', borderWidth: 1.3 },
      z: 2
    },
    {
      name: 'fit',
      type: 'line',
      data: curveData,
      smooth: true,
      symbol: 'none',
      lineStyle: { color: '#000000', width: 1.3 },
      itemStyle: { color: '#000000' },
      z: 3
    }
  ],
  graphic: [
    {
      type: 'ellipse',
      shape: { cx: 776, cy: 853, rx: 49, ry: 28 },
      style: { fill: 'none', stroke: '#ee3b1d', lineWidth: 2 },
      z: 10
    }
  ]
});
</script>
</body>
</html>
